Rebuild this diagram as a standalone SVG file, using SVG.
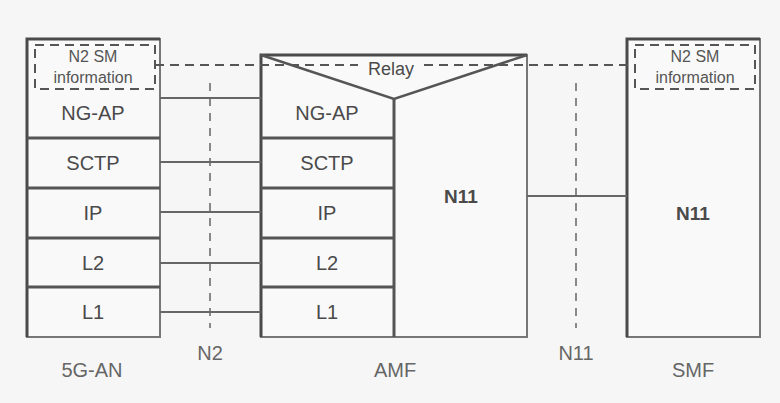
<svg xmlns="http://www.w3.org/2000/svg" width="780" height="403" viewBox="0 0 780 403">
<style>
.box{fill:#f9f9f9;stroke:#777;stroke-width:2}
.edge{stroke:#4a4a4a;stroke-width:3;fill:none}
.div{stroke:#555;stroke-width:3}
.ln{stroke:#666;stroke-width:2;fill:none}
.dash{stroke:#555;stroke-width:2;stroke-dasharray:9,6;fill:none}
.vdash{stroke:#888;stroke-width:2;stroke-dasharray:8,7;fill:none}
.t{font-family:"Liberation Sans",Arial,sans-serif;font-size:20px;fill:#4a4a4a;text-anchor:middle}
.s{font-family:"Liberation Sans",Arial,sans-serif;font-size:16px;fill:#555;text-anchor:middle}
</style>
<rect width="780" height="403" fill="#f6f6f6"/>
<g id="an">
<rect class="box" x="27" y="39" width="133" height="298"/>
<polyline class="edge" points="27,337 27,39 160,39"/>
<line class="div" x1="27" y1="138" x2="160" y2="138"/>
<line class="div" x1="27" y1="188" x2="160" y2="188"/>
<line class="div" x1="27" y1="238" x2="160" y2="238"/>
<line class="div" x1="27" y1="287" x2="160" y2="287"/>
<rect class="dash" x="35" y="45" width="120" height="44"/>
<text class="s" x="93" y="62">N2 SM</text>
<text class="s" x="93" y="83">information</text>
<text class="t" x="93" y="120">NG-AP</text>
<text class="t" x="93" y="170">SCTP</text>
<text class="t" x="93" y="220">IP</text>
<text class="t" x="93" y="270">L2</text>
<text class="t" x="93" y="319">L1</text>
<text class="t" x="92" y="377" style="fill:#666">5G-AN</text>
</g>
<g id="amf">
<rect class="box" x="261" y="55" width="266" height="282"/>
<polyline class="edge" points="261,337 261,55 527,55"/>
<polyline class="ln" points="261,55 394,99 527,55" style="stroke:#555;stroke-width:2.5"/>
<line class="div" x1="394" y1="99" x2="394" y2="337"/>
<line class="div" x1="261" y1="138" x2="394" y2="138"/>
<line class="div" x1="261" y1="188" x2="394" y2="188"/>
<line class="div" x1="261" y1="238" x2="394" y2="238"/>
<line class="div" x1="261" y1="287" x2="394" y2="287"/>
<text class="t" x="327" y="120">NG-AP</text>
<text class="t" x="327" y="170">SCTP</text>
<text class="t" x="327" y="220">IP</text>
<text class="t" x="327" y="270">L2</text>
<text class="t" x="327" y="319">L1</text>
<text class="t" x="461" y="203" style="font-weight:bold;font-size:19px">N11</text>
<text class="t" x="395" y="377" style="fill:#666">AMF</text>
</g>
<g id="smf">
<rect class="box" x="627" y="39" width="133" height="298"/>
<polyline class="edge" points="627,337 627,39 760,39"/>
<rect class="dash" x="635" y="45" width="120" height="44"/>
<text class="s" x="695" y="62">N2 SM</text>
<text class="s" x="695" y="83">information</text>
<text class="t" x="693" y="220" style="font-weight:bold;font-size:19px">N11</text>
<text class="t" x="693" y="377" style="fill:#666">SMF</text>
</g>
<g id="connectors">
<line class="dash" x1="155" y1="65" x2="358" y2="65"/>
<line class="dash" x1="424" y1="65" x2="636" y2="65"/>
<line class="vdash" x1="210" y1="83" x2="210" y2="328"/>
<line class="vdash" x1="576" y1="83" x2="576" y2="328"/>
<line class="ln" x1="160" y1="98" x2="261" y2="98"/>
<line class="ln" x1="160" y1="162" x2="261" y2="162"/>
<line class="ln" x1="160" y1="212" x2="261" y2="212"/>
<line class="ln" x1="160" y1="263" x2="261" y2="263"/>
<line class="ln" x1="160" y1="312" x2="261" y2="312"/>
<line class="ln" x1="527" y1="196" x2="627" y2="196"/>
</g>
<g id="labels">
<text class="t" x="391" y="75" style="font-size:18px">Relay</text>
<text class="t" x="210" y="360" style="fill:#666">N2</text>
<text class="t" x="576" y="360" style="fill:#666">N11</text>
</g>
</svg>
